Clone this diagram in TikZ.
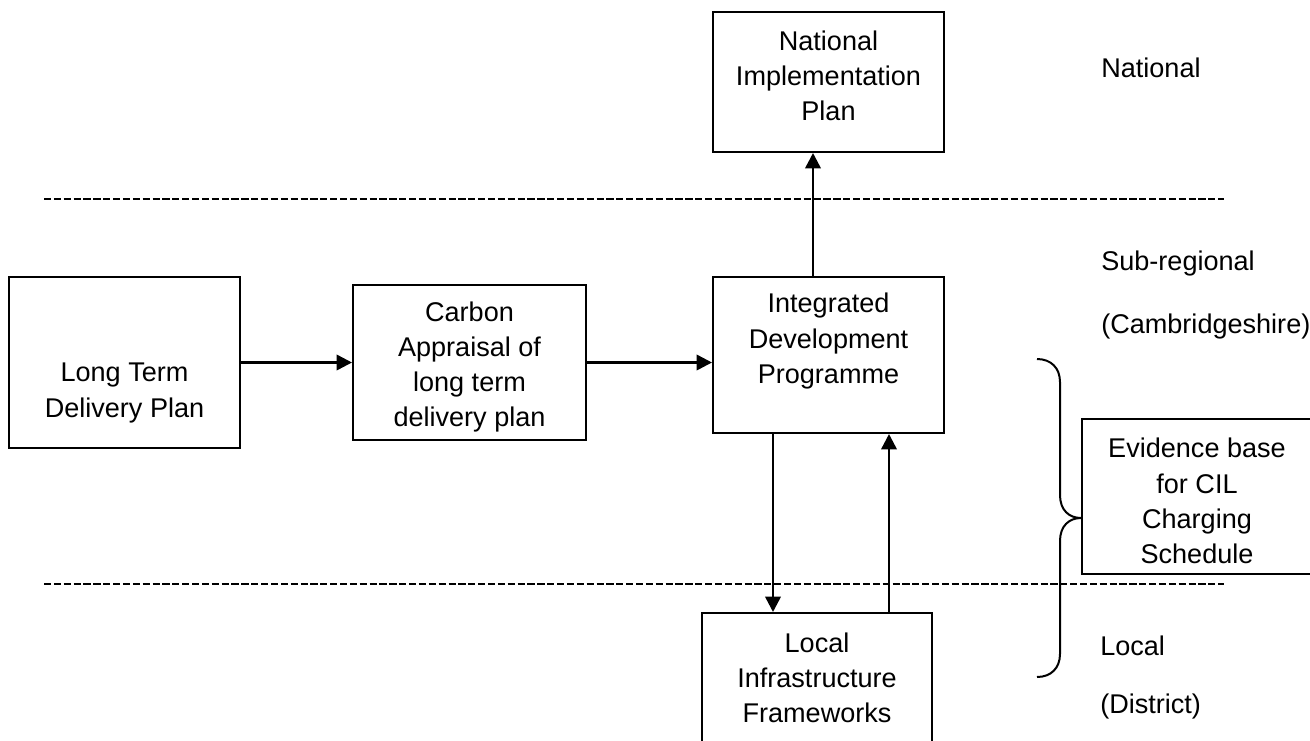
\documentclass[tikz,border=0pt]{standalone}
\usepackage{fontspec}
\setmainfont{Liberation Sans}
\usetikzlibrary{arrows.meta,calc,fit}
\begin{document}
\begin{tikzpicture}[x=0.75pt,y=-0.75pt,
    box/.style={draw,line width=1.5pt,inner sep=0pt},
    txt/.style={align=center,inner sep=0pt,font=\fontsize{20.3pt}{26.4pt}\selectfont},
    lvl/.style={anchor=base west,inner sep=0pt,font=\fontsize{20.3pt}{26.4pt}\selectfont},
    arr/.style={line width=1.9pt,-{Triangle[length=11.5pt,width=11.5pt]}},
    sep/.style={line width=1.9pt,dash pattern=on 5.4pt off 2pt}]
    \useasboundingbox (0,0) rectangle (1310,740);

    \node[box,fit={(713,12) (944,152)}] (nip) {};
    \node[box,fit={(9,277) (240,448)}] (ltdp) {};
    \node[box,fit={(353,285) (586,440)}] (cap) {};
    \node[box,fit={(713,277) (944,433)}] (idp) {};
    \node[box,fit={(702,613) (932,770)}] (lif) {};
    \node[box,fit={(1082,419) (1312,574)}] (cil) {};

    \node[txt] (niptext) at (828.5,76) {National\\Implementation\\Plan};
    \node[txt] (ltdptext) at (124.5,393) {Long Term\\Delivery Plan};
    \node[txt] (captext) at (469.5,367) {Carbon\\Appraisal of\\long term\\delivery plan};
    \node[txt] (idptext) at (828.5,341) {Integrated\\Development\\Programme};
    \node[txt] (liftext) at (817,678) {Local\\Infrastructure\\Frameworks};
    \node[txt] (ciltext) at (1197,501) {Evidence base\\for CIL\\Charging\\Schedule};

    \node[lvl] (national) at (1101,77) {National};
    \node[lvl] (subreg) at (1101,270) {Sub-regional};
    \node[lvl] (cambs) at (1101,333) {(Cambridgeshire)};
    \node[lvl] (local) at (1100,655) {Local};
    \node[lvl] (district) at (1100,713) {(District)};

    \draw[sep] (44,199) -- (1224,199);
    \draw[sep] (44,584) -- (1224,584);

    \draw[arr] (ltdp.east) -- (cap.west);
    \draw[arr] (cap.east) -- (cap.east -| idp.west);
    \coordinate (up) at ($(idp.north)+(-15.5,0)$);
    \draw[arr] (up) -- (up |- nip.south);
    \coordinate (down) at ($(idp.south)+(-55.5,0)$);
    \draw[arr] (down) -- (down |- lif.north);
    \coordinate (back) at ($(idp.south)+(60.5,0)$);
    \draw[arr] (back |- lif.north) -- (back);

    \draw[line width=1.5pt] (1037,359) .. controls (1051,359) and (1060,368) .. (1060,382)
        -- (1060,495) .. controls (1060,510) and (1069,518) .. (cil.west |- 0,518)
        .. controls (1069,518) and (1060,526) .. (1060,541)
        -- (1060,654) .. controls (1060,668) and (1051,677) .. (1037,677);

\end{tikzpicture}
\end{document}
